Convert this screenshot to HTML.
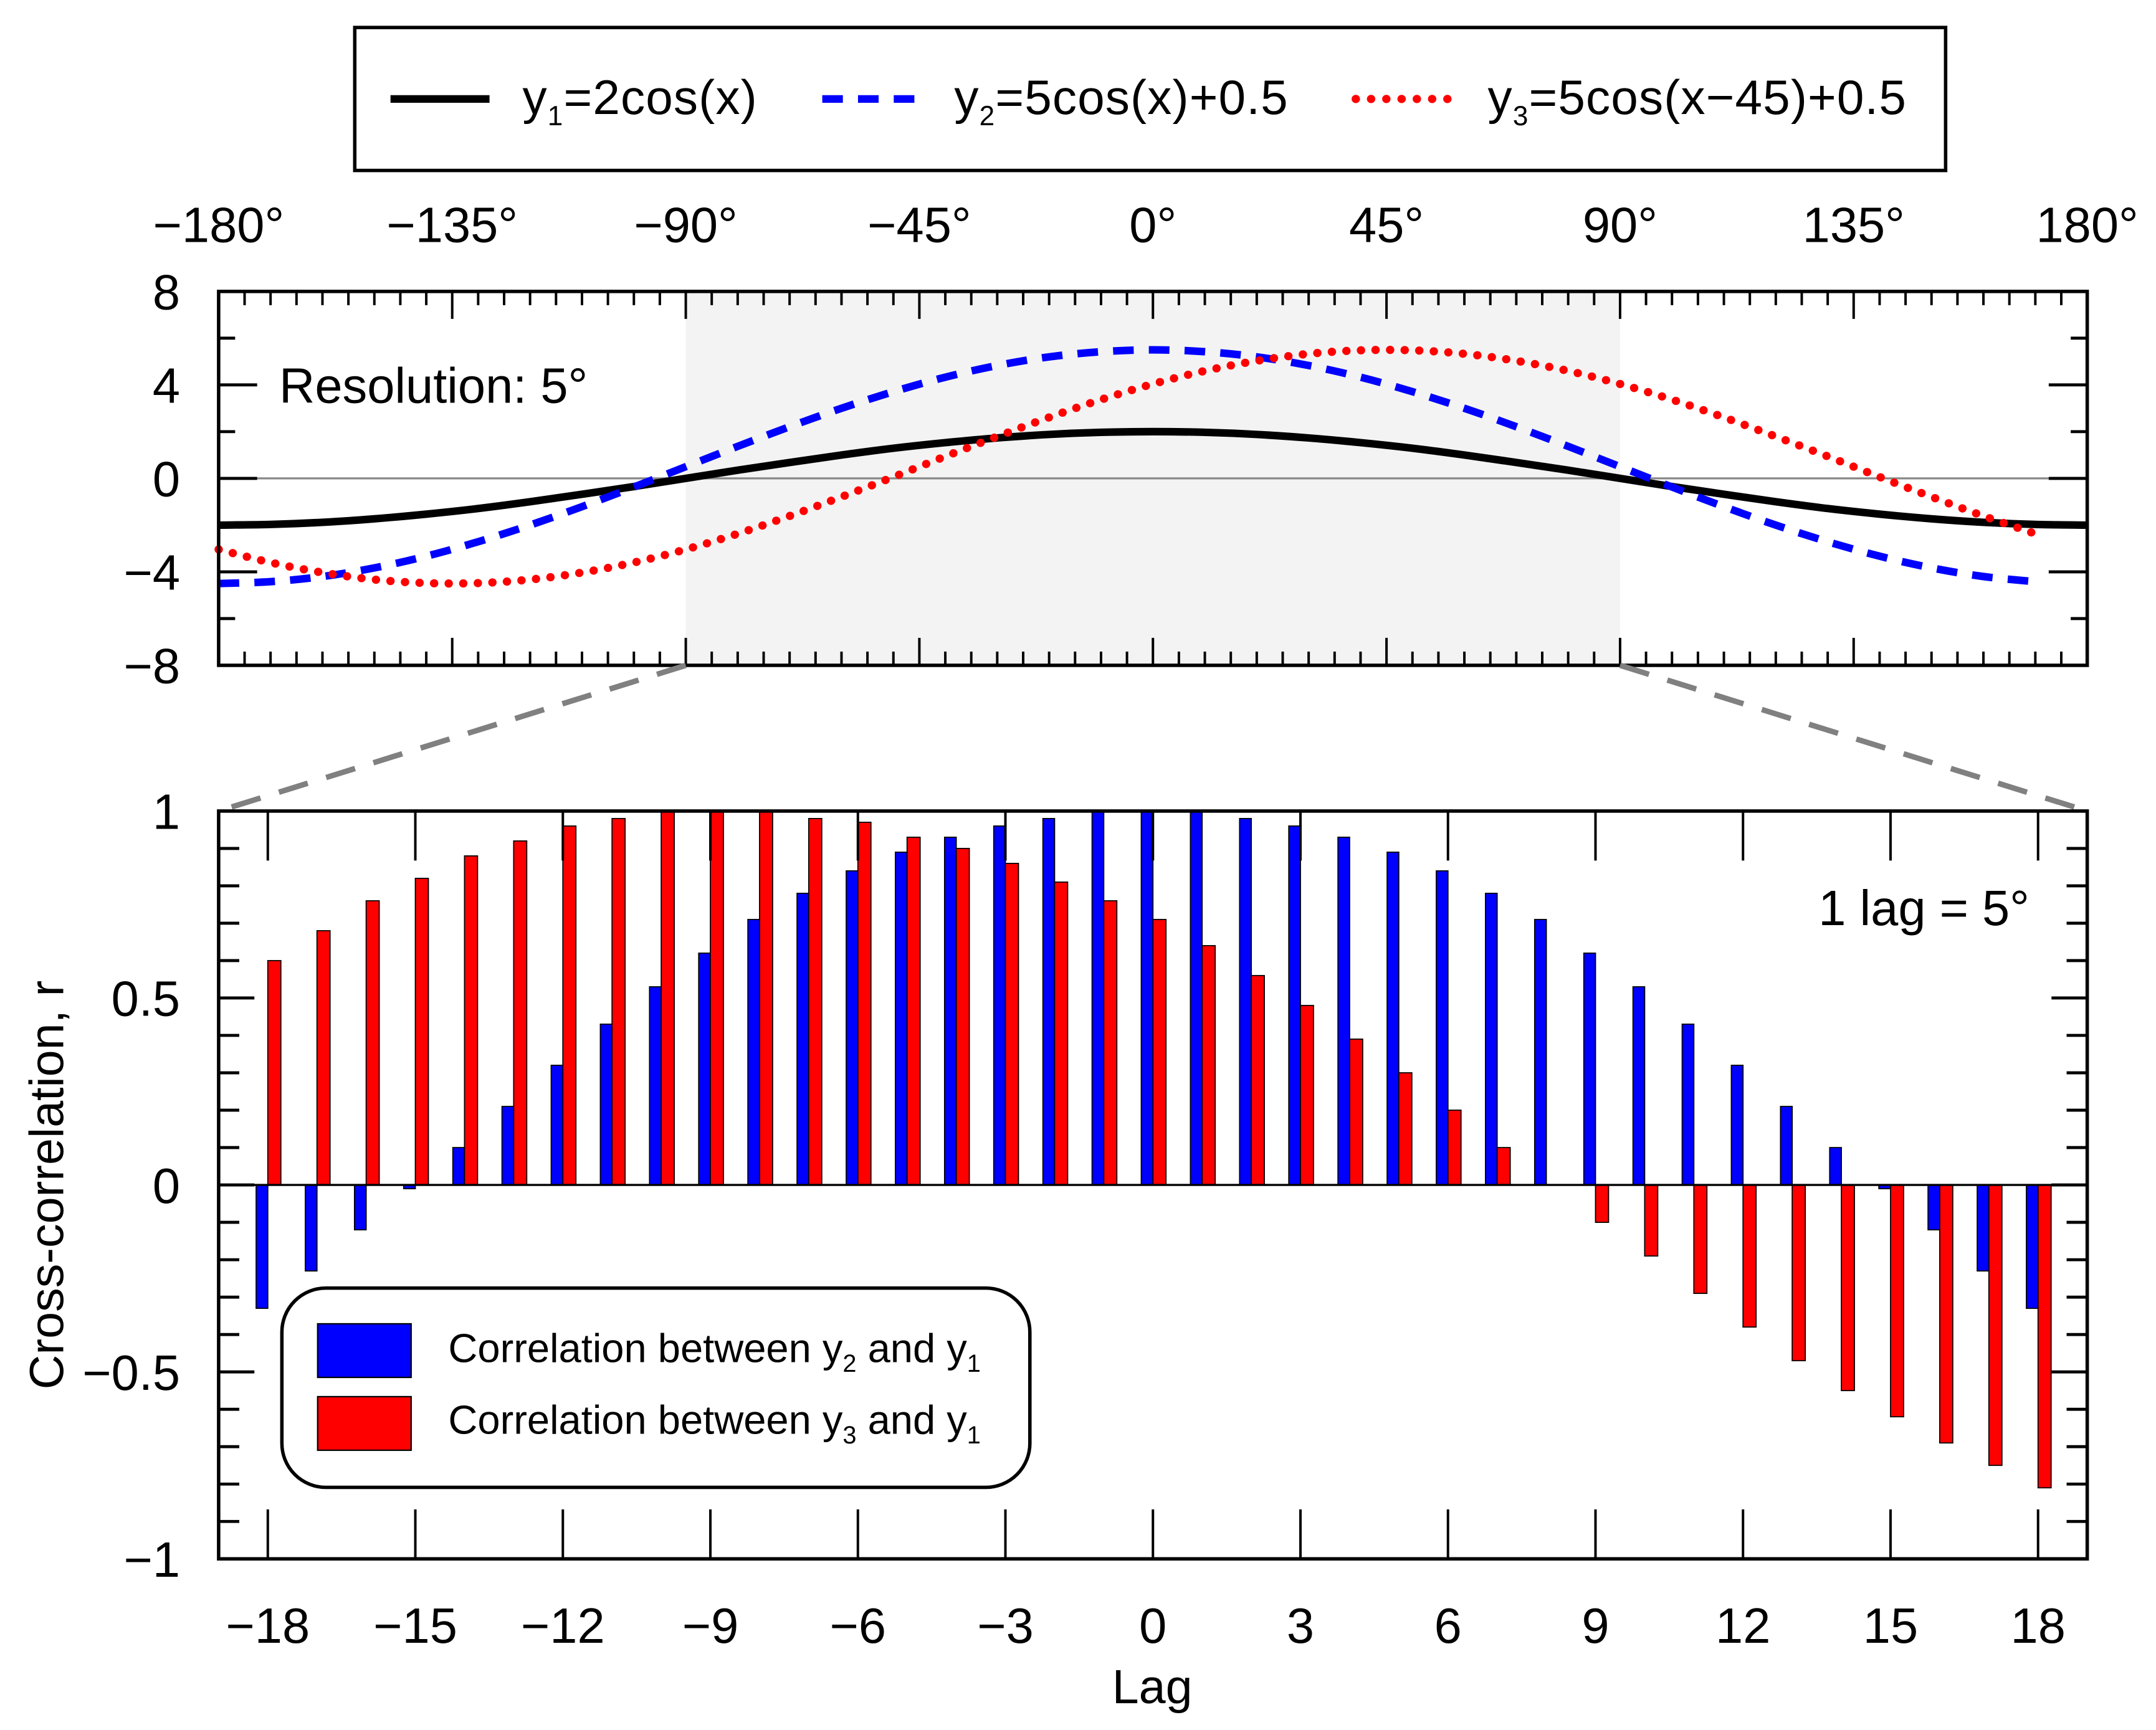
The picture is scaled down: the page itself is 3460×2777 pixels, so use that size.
<!DOCTYPE html>
<html><head><meta charset="utf-8">
<style>
html,body{margin:0;padding:0;background:#fff;}
svg{display:block;font-family:"Liberation Sans",sans-serif;}
</style></head>
<body>
<svg id="chart" width="3460" height="2777" viewBox="0 0 1568 1258.5" xmlns="http://www.w3.org/2000/svg">
<g id="top-legend">
  <rect x="258" y="20" width="1157" height="104" fill="#fff" stroke="#000" stroke-width="2.5"/>
  <line x1="284" y1="72" x2="356" y2="72" stroke="#000" stroke-width="5.5"/>
  <text x="380" y="83" font-size="35.5" letter-spacing="0.5">y<tspan font-size="20" dy="8">1</tspan><tspan dy="-8">=2cos(x)</tspan></text>
  <line x1="598" y1="72" x2="670" y2="72" stroke="#0000ff" stroke-width="5.5" stroke-dasharray="15,11"/>
  <text x="694" y="83" font-size="35.5" letter-spacing="0.5">y<tspan font-size="20" dy="8">2</tspan><tspan dy="-8">=5cos(x)+0.5</tspan></text>
  <line x1="986" y1="72" x2="1058" y2="72" stroke="#ff0000" stroke-width="6" stroke-dasharray="0.1,11" stroke-linecap="round"/>
  <text x="1082" y="83" font-size="35.5" letter-spacing="0.5">y<tspan font-size="20" dy="8">3</tspan><tspan dy="-8">=5cos(x−45)+0.5</tspan></text>
</g>
<g id="top-plot"></g>
<g id="connectors"></g>
<g id="bottom-plot"></g>
</svg>
<script>
// ---- top chart data ----
const angles = [-180,-170,-160,-150,-140,-130,-120,-110,-100,-90,-80,-70,-60,-50,-40,-30,-20,-10,0,10,20,30,40,50,60,70,80,90,100,110,120,130,140,150,160,170,180];
const y1Vals = [-2,-1.97,-1.88,-1.73,-1.53,-1.29,-1,-0.68,-0.35,0,0.35,0.68,1,1.29,1.53,1.73,1.88,1.97,2,1.97,1.88,1.73,1.53,1.29,1,0.68,0.35,0,-0.35,-0.68,-1,-1.29,-1.53,-1.73,-1.88,-1.97,-2];
const y2Vals = [-4.5,-4.42,-4.2,-3.83,-3.33,-2.71,-2,-1.21,-0.37,0.5,1.37,2.21,3,3.71,4.33,4.83,5.2,5.42,5.5,5.42,5.2,4.83,4.33,3.71,3,2.21,1.37,0.5,-0.37,-1.21,-2,-2.71,-3.33,-3.83,-4.2,-4.42,-4.5];
const y3Vals = [-3.04,-3.6,-4.03,-4.33,-4.48,-4.48,-4.33,-4.03,-3.6,-3.04,-2.37,-1.61,-0.79,0.06,0.94,1.79,2.61,3.37,4.04,4.6,5.03,5.33,5.48,5.48,5.33,5.03,4.6,4.04,3.37,2.61,1.79,0.94,0.06,-0.79,-1.61,-2.37,-3.04];
const topXTicks = [-180,-135,-90,-45,0,45,90,135,180];
const topYTicks = [8,4,0,-4,-8];
// ---- bottom chart data ----
const lags = [-18,-17,-16,-15,-14,-13,-12,-11,-10,-9,-8,-7,-6,-5,-4,-3,-2,-1,0,1,2,3,4,5,6,7,8,9,10,11,12,13,14,15,16,17,18];
const r21 = [-0.33,-0.23,-0.12,-0.01,0.10,0.21,0.32,0.43,0.53,0.62,0.71,0.78,0.84,0.89,0.93,0.96,0.98,1.0,1.0,1.0,0.98,0.96,0.93,0.89,0.84,0.78,0.71,0.62,0.53,0.43,0.32,0.21,0.10,-0.01,-0.12,-0.23,-0.33];
const r31 = [0.60,0.68,0.76,0.82,0.88,0.92,0.96,0.98,1.0,1.0,1.0,0.98,0.97,0.93,0.90,0.86,0.81,0.76,0.71,0.64,0.56,0.48,0.39,0.30,0.20,0.10,0.0,-0.10,-0.19,-0.29,-0.38,-0.47,-0.55,-0.62,-0.69,-0.75,-0.81];
const lagTicks = [-18,-15,-12,-9,-6,-3,0,3,6,9,12,15,18];
const rTicks = [1,0.5,0,-0.5,-1];

const NS='http://www.w3.org/2000/svg';
function mk(tag, attrs, parent, text){
  const e=document.createElementNS(NS,tag);
  for(const k in attrs) e.setAttribute(k,attrs[k]);
  if(text!==undefined) e.textContent=text;
  parent.appendChild(e); return e;
}
const L=159,R=1518;
const T1=212,B1=484;
const xA=a=>L+(a+180)/360*(R-L);
const yA=v=>T1+(8-v)/16*(B1-T1);
const topG=document.getElementById('top-plot');
const shade=mk('rect',{x:xA(-90),y:T1,width:xA(90)-xA(-90),height:B1-T1,fill:'#f3f3f3'},topG);


mk('line',{x1:L,y1:yA(0),x2:R,y2:yA(0),stroke:'#888',"stroke-width":1.5},topG);
for(let a=-180;a<=180;a+=5){
  const maj=(a%45===0), len=maj?20:10;
  mk('line',{x1:xA(a),y1:T1,x2:xA(a),y2:T1+len,stroke:'#000',"stroke-width":1.8},topG);
  mk('line',{x1:xA(a),y1:B1,x2:xA(a),y2:B1-len,stroke:'#000',"stroke-width":1.8},topG);
}
for(let v=-8;v<=8;v+=2){
  const maj=(v%4===0), len=maj?28:12;
  mk('line',{x1:L,y1:yA(v),x2:L+len,y2:yA(v),stroke:'#000',"stroke-width":2.2},topG);
  mk('line',{x1:R,y1:yA(v),x2:R-len,y2:yA(v),stroke:'#000',"stroke-width":2.2},topG);
}
topXTicks.forEach(a=>{
  const t=mk('text',{x:xA(a),y:176,"font-size":36,"text-anchor":"middle"},topG,(a<0?'−'+(-a):a)+'°');
  
  
});
topYTicks.forEach(v=>{
  const t=mk('text',{x:131,y:yA(v)+13,"font-size":36,"text-anchor":"end"},topG,v<0?'−'+(-v):String(v));
  
  
});
const resTxt=mk('text',{x:203,y:293,"font-size":36},topG,'Resolution: 5°');


function smooth(pts){
  let d='M'+pts[0][0]+','+pts[0][1];
  for(let i=0;i<pts.length-1;i++){
    const p0=pts[Math.max(0,i-1)],p1=pts[i],p2=pts[i+1],p3=pts[Math.min(pts.length-1,i+2)];
    d+=' C'+(p1[0]+(p2[0]-p0[0])/6)+','+(p1[1]+(p2[1]-p0[1])/6)+' '+(p2[0]-(p3[0]-p1[0])/6)+','+(p2[1]-(p3[1]-p1[1])/6)+' '+p2[0]+','+p2[1];
  }
  return d;
}
function series(vals,n,style,name){
  const pts=[];for(let i=0;i<n;i++) pts.push([xA(angles[i]),yA(vals[i])]);
  const p=mk('path',Object.assign({d:smooth(pts),fill:'none'},style),topG);
  
  
}
series(y1Vals,37,{stroke:'#000',"stroke-width":5.5},'y1-line');
series(y2Vals,36,{stroke:'#0000ff',"stroke-width":5.5,"stroke-dasharray":"15,11"},'y2-line');
series(y3Vals,36,{stroke:'#ff0000',"stroke-width":6,"stroke-dasharray":"0.1,10.5","stroke-linecap":"round"},'y3-line');
mk('rect',{x:L,y:T1,width:R-L,height:B1-T1,fill:'none',stroke:'#000',"stroke-width":2.5},topG);

const T2=590,B2=1134;
const con=document.getElementById('connectors');
mk('line',{x1:xA(-90),y1:B1,x2:L,y2:T2,stroke:'#808080',"stroke-width":4,"stroke-dasharray":"22,14"},con);
mk('line',{x1:xA(90),y1:B1,x2:R,y2:T2,stroke:'#808080',"stroke-width":4,"stroke-dasharray":"22,14"},con);

const bot=document.getElementById('bottom-plot');
const xL=l=>L+(l+19)/38*(R-L);
const yR=v=>T2+(1-v)/2*(B2-T2);
for(let i=0;i<lags.length;i++){
  const c=xL(lags[i]);
  const b=mk('rect',{x:c-8.5,y:Math.min(yR(r21[i]),yR(0)),width:8.5,height:Math.abs(yR(r21[i])-yR(0)),fill:'#0000ff',stroke:'#000',"stroke-width":0.8},bot);
  
  
  const r=mk('rect',{x:c,y:Math.min(yR(r31[i]),yR(0)),width:9.5,height:Math.abs(yR(r31[i])-yR(0)),fill:'#ff0000',stroke:'#000',"stroke-width":0.8},bot);
  
  
}
mk('line',{x1:L,y1:yR(0),x2:R,y2:yR(0),stroke:'#000',"stroke-width":1.5},bot);
for(let k=-10;k<=10;k++){
  const v=k/10, len=(k%5===0)?26:15;
  mk('line',{x1:L,y1:yR(v),x2:L+len,y2:yR(v),stroke:'#000',"stroke-width":2.2},bot);
  mk('line',{x1:R,y1:yR(v),x2:R-len,y2:yR(v),stroke:'#000',"stroke-width":2.2},bot);
}
lagTicks.forEach(l=>{
  mk('line',{x1:xL(l),y1:T2,x2:xL(l),y2:T2+36,stroke:'#000',"stroke-width":1.8},bot);
  mk('line',{x1:xL(l),y1:B2,x2:xL(l),y2:B2-36,stroke:'#000',"stroke-width":1.8},bot);
  const t=mk('text',{x:xL(l),y:1195,"font-size":36,"text-anchor":"middle"},bot,l<0?'−'+(-l):String(l));
  
  
});
rTicks.forEach(v=>{
  const t=mk('text',{x:131,y:yR(v)+13,"font-size":36,"text-anchor":"end"},bot,v<0?'−'+(-v):String(v));
  
  
});
mk('rect',{x:L,y:T2,width:R-L,height:B2-T2,fill:'none',stroke:'#000',"stroke-width":2.5},bot);
const lagTxt=mk('text',{x:1476,y:673,"font-size":36,"text-anchor":"end"},bot,'1 lag = 5°');


const xt=mk('text',{x:838,y:1239,"font-size":35,"text-anchor":"middle"},bot,'Lag');


const yt=mk('text',{x:0,y:0,"font-size":35,"text-anchor":"middle",transform:'translate(46,862) rotate(-90)'},bot,'Cross-correlation, r');


const lg=mk('g',{},bot);


mk('rect',{x:205,y:937,width:544,height:145,rx:32,ry:32,fill:'#fff',stroke:'#000',"stroke-width":2.5},lg);
mk('rect',{x:231,y:963,width:68,height:39,fill:'#0000ff',stroke:'#000',"stroke-width":1},lg);
mk('rect',{x:231,y:1016,width:68,height:39,fill:'#ff0000',stroke:'#000',"stroke-width":1},lg);
const t1=mk('text',{x:326,y:991,"font-size":29.5},lg);
t1.innerHTML='Correlation between y<tspan font-size="18" dy="7">2</tspan><tspan dy="-7"> and y</tspan><tspan font-size="18" dy="7">1</tspan>';
const t2=mk('text',{x:326,y:1043,"font-size":29.5},lg);
t2.innerHTML='Correlation between y<tspan font-size="18" dy="7">3</tspan><tspan dy="-7"> and y</tspan><tspan font-size="18" dy="7">1</tspan>';
</script>
</body></html>
